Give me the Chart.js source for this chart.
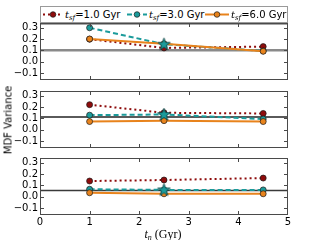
<!DOCTYPE html>
<html>
<head>
<meta charset="utf-8">
<script src="https://cdn.jsdelivr.net/npm/chart.js@4.4.1/dist/chart.umd.min.js"></script>
<style>
body{margin:0;background:#fff;}
#wrap{position:relative;width:320px;height:240px;overflow:hidden;font-family:'DejaVu Sans',sans-serif;color:#000;}
#wrap canvas{position:absolute;left:0;top:0;}
#legend{position:absolute;left:40px;top:6px;width:246px;height:15px;border:1px solid #9a9a9a;background:#fff;font-size:10px;}
.item{position:absolute;top:0;height:15px;line-height:15px;white-space:nowrap;}
.item svg{position:absolute;left:0;top:0;}
.item span{position:absolute;top:0;}
.m{font-family:'DejaVu Serif',serif;font-style:italic;}
.m sub{font-size:7px;vertical-align:-2px;line-height:0;}
#ytitle{position:absolute;left:8px;top:120px;transform:translate(-50%,-50%) rotate(-90deg);font-size:10px;white-space:nowrap;}
#xtitle{position:absolute;left:163px;top:227px;transform:translateX(-50%);font-family:'Liberation Serif',serif;font-size:12px;white-space:nowrap;}
#xtitle i sub{font-size:8px;vertical-align:-2px;line-height:0;}
</style>
</head>
<body>
<div id="wrap">
  <canvas id="p1" width="320" height="240"></canvas>
  <canvas id="p2" width="320" height="240"></canvas>
  <canvas id="p3" width="320" height="240"></canvas>
  <div id="legend"></div>
  <div id="ytitle">MDF Variance</div>
  <div id="xtitle"><i>t<sub>n</sub></i> (Gyr)</div>
</div>
<script>
// x positions (t_n, Gyr) and axis ticks
const xVals = [1.0, 2.5, 4.5];
const xTicks = [0, 1, 2, 3, 4, 5];
const yTicks = [-0.1, 0.0, 0.1, 0.2, 0.3];
const legendNames = ['1.0', '3.0', '6.0'];

// panel 1 (top)
const p1Sf1 = [0.198, 0.121, 0.133];
const p1Sf3 = [0.298, 0.154, 0.095];
const p1Sf6 = [0.200, 0.157, 0.092];
const p1Ref = [0.100, 0.335];
// panel 2 (middle)
const p2Sf1 = [0.220, 0.149, 0.143];
const p2Sf3 = [0.128, 0.134, 0.094];
const p2Sf6 = [0.072, 0.080, 0.072];
const p2Ref = [0.111];
// panel 3 (bottom)
const p3Sf1 = [0.138, 0.147, 0.164];
const p3Sf3 = [0.066, 0.060, 0.060];
const p3Sf6 = [0.035, 0.026, 0.026];
const p3Ref = [0.055];

const RED = '#8e0c0c', TEAL = '#1b9b9b', ORANGE = '#e8831c';
const styles = [
  {color: RED, dash: [2, 3], order: 3},
  {color: TEAL, dash: [5, 3], order: 2},
  {color: ORANGE, dash: [], order: 1}
];

// filled star marker for the fiducial point
const star = document.createElement('canvas');
star.width = 15; star.height = 15;
(function(){
  const c = star.getContext('2d');
  c.beginPath();
  for(let i=0;i<10;i++){
    const r = i%2 ? 2.7 : 6.6;
    const a = -Math.PI/2 + i*Math.PI/5;
    c.lineTo(7.5 + r*Math.cos(a), 7.8 + r*Math.sin(a));
  }
  c.closePath();
  c.fillStyle = TEAL; c.fill();
  c.strokeStyle = '#0d3f3f'; c.lineWidth = 0.8; c.stroke();
})();

const framePlugin = {
  id: 'frame',
  afterDatasetsDraw(chart){
    const {ctx, chartArea: a, scales: {x, y}} = chart;
    ctx.save();
    ctx.strokeStyle = '#4a4a4a'; ctx.lineWidth = 1;
    ctx.strokeRect(a.left + 0.5, a.top + 0.5, a.right - a.left - 1, a.bottom - a.top - 1);
    ctx.beginPath();
    xTicks.slice(1, -1).forEach(v => {
      const px = Math.round(x.getPixelForValue(v)) + 0.5;
      ctx.moveTo(px, a.bottom); ctx.lineTo(px, a.bottom - 4);
      ctx.moveTo(px, a.top); ctx.lineTo(px, a.top + 4);
    });
    yTicks.forEach(v => {
      const py = Math.round(y.getPixelForValue(v)) + 0.5;
      ctx.moveTo(a.left, py); ctx.lineTo(a.left + 4, py);
      ctx.moveTo(a.right, py); ctx.lineTo(a.right - 4, py);
    });
    ctx.stroke();
    ctx.restore();
  }
};

function pts(vals){ return xVals.map((x, i) => ({x, y: vals[i]})); }

function makePanel(id, top, bottom, series, refs, refStyle, showX){
  const ds = refs.map(v => ({
    data: [{x: xTicks[0], y: v}, {x: xTicks[xTicks.length-1], y: v}],
    borderColor: refStyle.color, borderWidth: refStyle.width,
    pointRadius: 0, order: 10
  }));
  series.forEach((vals, i) => {
    const s = styles[i];
    ds.push({
      data: pts(vals), borderColor: s.color, backgroundColor: s.color,
      borderWidth: 2, borderDash: s.dash,
      pointRadius: 3, pointBorderColor: '#1a1a1a', pointBorderWidth: 0.7,
      order: s.order
    });
  });
  // star on the middle teal point
  ds.push({
    data: [{x: xVals[1], y: series[1][1]}],
    pointStyle: star, pointRadius: 7, showLine: false, order: 0
  });
  const xh = showX ? 22 : 0;
  new Chart(document.getElementById(id), {
    type: 'scatter',
    data: {datasets: ds.map(d => Object.assign({showLine: true, fill: false}, d))},
    options: {
      responsive: false, animation: false,
      layout: {padding: {left: 0, right: 32, top: top, bottom: 240 - bottom - xh}},
      plugins: {legend: {display: false}, tooltip: {enabled: false}},
      scales: {
        x: {
          type: 'linear', min: 0, max: 5, display: showX,
          grid: {display: false, drawTicks: false}, border: {display: false},
          afterBuildTicks: s => { s.ticks = xTicks.map(v => ({value: v})); },
          afterFit: s => { s.height = xh; },
          ticks: {padding: 1, autoSkip: false, maxRotation: 0, color: '#000', font: {size: 10}, callback: v => String(v)}
        },
        y: {
          min: -0.16, max: 0.34,
          grid: {display: false, drawTicks: false}, border: {display: false},
          afterBuildTicks: s => { s.ticks = yTicks.map(v => ({value: v})); },
          afterFit: s => { s.width = 40; },
          ticks: {padding: 2, autoSkip: false, color: '#000', font: {size: 10},
            callback: v => Math.abs(v) < 1e-9 ? '0.0' : v.toFixed(1).replace('-', '\u2212')}
        }
      }
    },
    plugins: [framePlugin]
  });
}

Chart.defaults.font.family = "'DejaVu Sans', sans-serif";
makePanel('p1', 23, 80, [p1Sf1, p1Sf3, p1Sf6], p1Ref, {color: '#8a8a8a', width: 2.5}, false);
makePanel('p2', 91, 148, [p2Sf1, p2Sf3, p2Sf6], p2Ref, {color: '#5a5a5a', width: 2}, false);
makePanel('p3', 158, 215, [p3Sf1, p3Sf3, p3Sf6], p3Ref, {color: '#3a3a3a', width: 1.3}, true);

// legend
const legend = document.getElementById('legend');
const legendX = [2, 86, 164];
legendNames.forEach((name, i) => {
  const s = styles[i];
  const w = i === 2 ? 24 : 20;
  const item = document.createElement('div');
  item.className = 'item';
  item.style.left = legendX[i] + 'px';
  item.innerHTML =
    `<svg width="${w}" height="15"><line x1="0" y1="7.5" x2="${w}" y2="7.5" stroke="${s.color}" stroke-width="2" stroke-dasharray="${s.dash.join(',') || 'none'}"/>` +
    `<circle cx="${w/2}" cy="7.5" r="2.8" fill="${s.color}" stroke="#1a1a1a" stroke-width="0.7"/></svg>` +
    `<span style="left:${w+2}px"><span class="m" style="position:static">t<sub>sf</sub></span>=${name} Gyr</span>`;
  legend.appendChild(item);
});
</script>
</body>
</html>
